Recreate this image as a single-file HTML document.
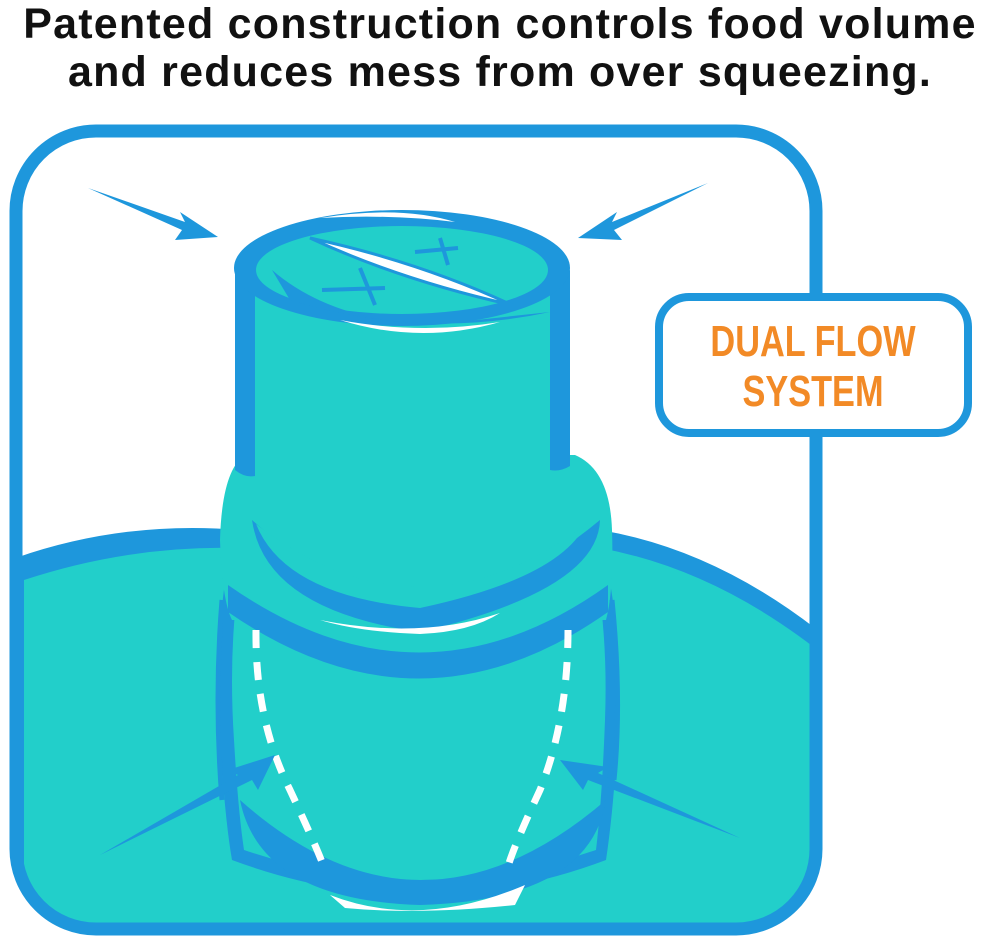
<!DOCTYPE html>
<html><head><meta charset="utf-8"><style>
html,body{margin:0;padding:0;background:#fff;}
body{width:1000px;height:939px;overflow:hidden;position:relative;}
.t{position:absolute;left:0;width:1000px;text-align:center;font-family:"Liberation Sans",sans-serif;font-weight:bold;font-size:43px;color:#111;letter-spacing:1.2px;white-space:nowrap}
</style></head><body>
<div class="t" style="top:0px">Patented construction controls food volume</div>
<div class="t" style="top:48px">and reduces mess from over squeezing.</div>
<svg width="1000" height="939" style="position:absolute;left:0;top:0">
<defs><clipPath id="fr"><rect x="16" y="131" width="800" height="798" rx="80"/></clipPath></defs>
<g clip-path="url(#fr)">
<path d="M10,560 Q120,520 240,530 L600,530 Q720,550 830,640 L830,939 L10,939Z" fill="#1e97dc"/>
<path d="M24,580 Q130,545 240,548 L600,548 Q720,570 830,660 L830,939 L24,939Z" fill="#22cfca"/>
</g>
<rect x="16" y="131" width="800" height="798" rx="80" fill="none" stroke="#1e97dc" stroke-width="13"/>
<!-- lower body -->
<path d="M228,560 Q214,650 220,740 Q225,820 232,860 Q420,930 606,860 Q615,800 618,720 Q622,640 606,560Z" fill="#1e97dc"/>
<path d="M240,570 Q228,650 234,740 Q238,810 244,850 Q420,910 596,850 Q602,800 605,720 Q608,640 596,570Z" fill="#22cfca"/>
<!-- flare -->
<path d="M245,455 Q222,470 220,540 Q222,600 232,620 L606,620 Q614,590 612,530 Q610,470 575,455Z" fill="#22cfca"/>
<!-- upper cylinder -->
<path d="M235,265 L235,470 Q245,478 255,476 L255,285Z" fill="#1e97dc"/>
<path d="M570,270 L570,466 Q560,472 550,470 L550,290Z" fill="#1e97dc"/>
<rect x="255" y="285" width="295" height="195" fill="#22cfca"/>
<!-- crescents -->
<path d="M252,520 Q420,670 600,520 Q598,590 420,632 Q265,610 252,520Z" fill="#1e97dc"/>
<path d="M256,524 Q420,650 586,524 Q560,578 420,608 Q285,596 256,524Z" fill="#22cfca"/>
<path d="M320,620 Q420,640 500,613 Q470,632 420,634 Q360,632 320,620Z" fill="#fff"/>
<path d="M228,585 Q420,720 608,585 L608,612 Q420,745 228,612Z" fill="#1e97dc"/>
<!-- top ellipse -->
<ellipse cx="402" cy="268" rx="168" ry="58" fill="#1e97dc"/>
<ellipse cx="402" cy="270" rx="146" ry="44" fill="#22cfca"/>
<path d="M320,218 Q400,205 455,222 Q390,214 320,218Z" fill="#fff"/>
<path d="M310,238 Q420,262 512,305 Q400,280 310,238Z" fill="#fff" stroke="#1e97dc" stroke-width="3"/>
<path d="M340,320 Q420,335 500,322 Q420,345 340,320Z" fill="#fff"/>
<path d="M272,270 Q330,320 430,325 L550,312 Q420,340 290,300Z" fill="#1e97dc"/>
<path d="M322,290 L385,288 M360,268 L375,305 M415,252 L458,248 M440,238 L448,265" stroke="#1e97dc" stroke-width="4"/>
<!-- side shading -->
<path d="M222,600 Q214,700 222,800" stroke="#1e97dc" stroke-width="5" fill="none"/>
<path d="M612,600 Q622,700 614,780" stroke="#1e97dc" stroke-width="5" fill="none"/>
<!-- bottom crescent -->
<path d="M240,800 Q420,960 606,800 Q590,900 420,905 Q260,900 240,800Z" fill="#1e97dc"/>
<path d="M330,895 Q420,930 525,885 L515,905 Q420,915 345,908Z" fill="#fff"/>
<!-- dashed -->
<path d="M256,630 Q255,720 290,790 Q318,850 325,870" stroke="#fff" stroke-width="7" fill="none" stroke-dasharray="18,14"/>
<path d="M568,630 Q568,720 540,790 Q512,850 507,870" stroke="#fff" stroke-width="7" fill="none" stroke-dasharray="18,14"/>
<!-- arrows -->
<g fill="#1e97dc">
<path d="M88,188 L185,222 L180,212 L218,237 L175,240 L182,230Z"/>
<path d="M708,183 L612,222 L617,212 L578,238 L622,240 L614,230Z"/>
<path d="M100,855 L238,775 L228,770 L275,755 L258,790 L252,780Z"/>
<path d="M740,838 L598,773 L608,767 L560,760 L583,790 L588,780Z"/>
</g>
<rect x="659" y="297" width="309" height="136" rx="30" fill="#fff" stroke="#1e97dc" stroke-width="8"/>
<g font-family="Liberation Sans,sans-serif" font-weight="bold" font-size="44" fill="#f28a26" text-anchor="middle">
<text x="813" y="356" transform="translate(813,0) scale(0.78,1) translate(-813,0)">DUAL FLOW</text>
<text x="813" y="406" transform="translate(813,0) scale(0.78,1) translate(-813,0)">SYSTEM</text>
</g>
</svg>
</body></html>
